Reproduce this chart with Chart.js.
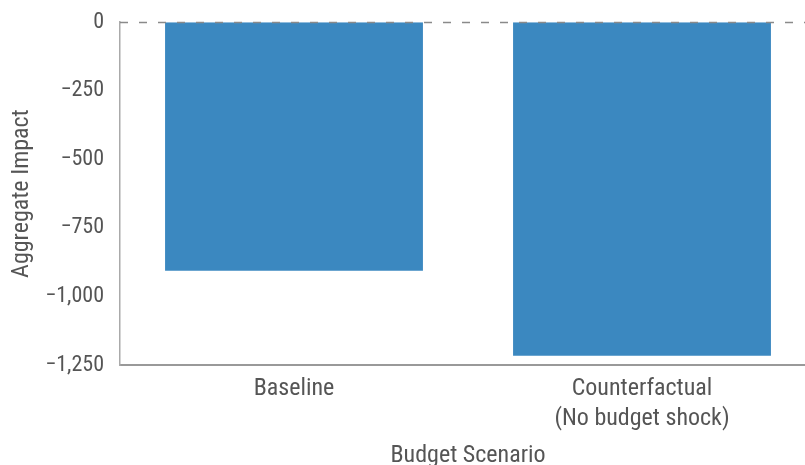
<!DOCTYPE html>
<html>
<head>
<meta charset="utf-8">
<script src="https://cdn.jsdelivr.net/npm/chart.js@4"></script>
<style>
  html, body { margin: 0; padding: 0; background: #ffffff; overflow: hidden; }
  #wrap { position: relative; width: 830px; height: 472px; margin-top: -7px; }
</style>
</head>
<body>
<div id="wrap"><canvas id="c"></canvas></div>
<script>
const categories = [["Baseline"], ["Counterfactual", "(No budget shock)"]];
const impactValues = [-906, -1216];
const yTickValues = [0, -250, -500, -750, -1000, -1250];
const xTitle = "Budget Scenario";
const yTitle = "Aggregate Impact";

const FONT = "'Liberation Sans Narrow', 'Roboto Condensed', Roboto, sans-serif";

function fmt(v) {
  const s = Math.abs(v).toLocaleString('en-US');
  return v < 0 ? '\u2212' + s : s;
}

const zeroLine = {
  id: 'zeroLine',
  afterDatasetsDraw(chart) {
    const { ctx, chartArea, scales } = chart;
    const y = Math.round(scales.y.getPixelForValue(0)) + 0.5;
    ctx.save();
    ctx.strokeStyle = '#8a8a8a';
    ctx.lineWidth = 1.5;
    ctx.setLineDash([8, 11]);
    ctx.beginPath();
    ctx.moveTo(chartArea.left, y);
    ctx.lineTo(chartArea.right, y);
    ctx.stroke();
    ctx.restore();
  }
};

new Chart(document.getElementById('c'), {
  type: 'bar',
  data: {
    labels: categories,
    datasets: [{
      data: impactValues,
      backgroundColor: '#3b88c0',
      borderWidth: 0,
      categoryPercentage: 1.0,
      barPercentage: 0.741
    }]
  },
  options: {
    responsive: true,
    maintainAspectRatio: false,
    animation: false,
    layout: { padding: { top: 0, right: 14, bottom: 0, left: 0 } },
    plugins: { legend: { display: false }, tooltip: { enabled: false } },
    scales: {
      x: {
        grid: { display: false, drawTicks: false },
        border: { display: true, color: '#999999', width: 2 },
        ticks: {
          color: '#555555',
          font: { family: FONT, size: 24, lineHeight: 1.25 },
          padding: 9,
          maxRotation: 0
        },
        title: {
          display: true, text: xTitle, color: '#555555',
          font: { family: FONT, size: 24 },
          padding: { top: 8, bottom: -5 }
        },
        afterFit(scale) { scale.height = 100; }
      },
      y: {
        min: -1250, max: 0,
        afterBuildTicks(scale) { scale.ticks = yTickValues.map(v => ({ value: v })); },
        grid: { display: false, drawTicks: false },
        border: { display: true, color: '#aaaaaa', width: 1.5 },
        ticks: {
          color: '#555555',
          font: { family: FONT, size: 22 },
          padding: 16,
          callback: (v) => fmt(v)
        },
        title: {
          display: true, text: yTitle, color: '#555555',
          font: { family: FONT, size: 24 },
          padding: { top: 8, bottom: 8 }
        },
        afterFit(scale) { scale.width = 120; }
      }
    }
  },
  plugins: [zeroLine]
});
</script>
</body>
</html>
